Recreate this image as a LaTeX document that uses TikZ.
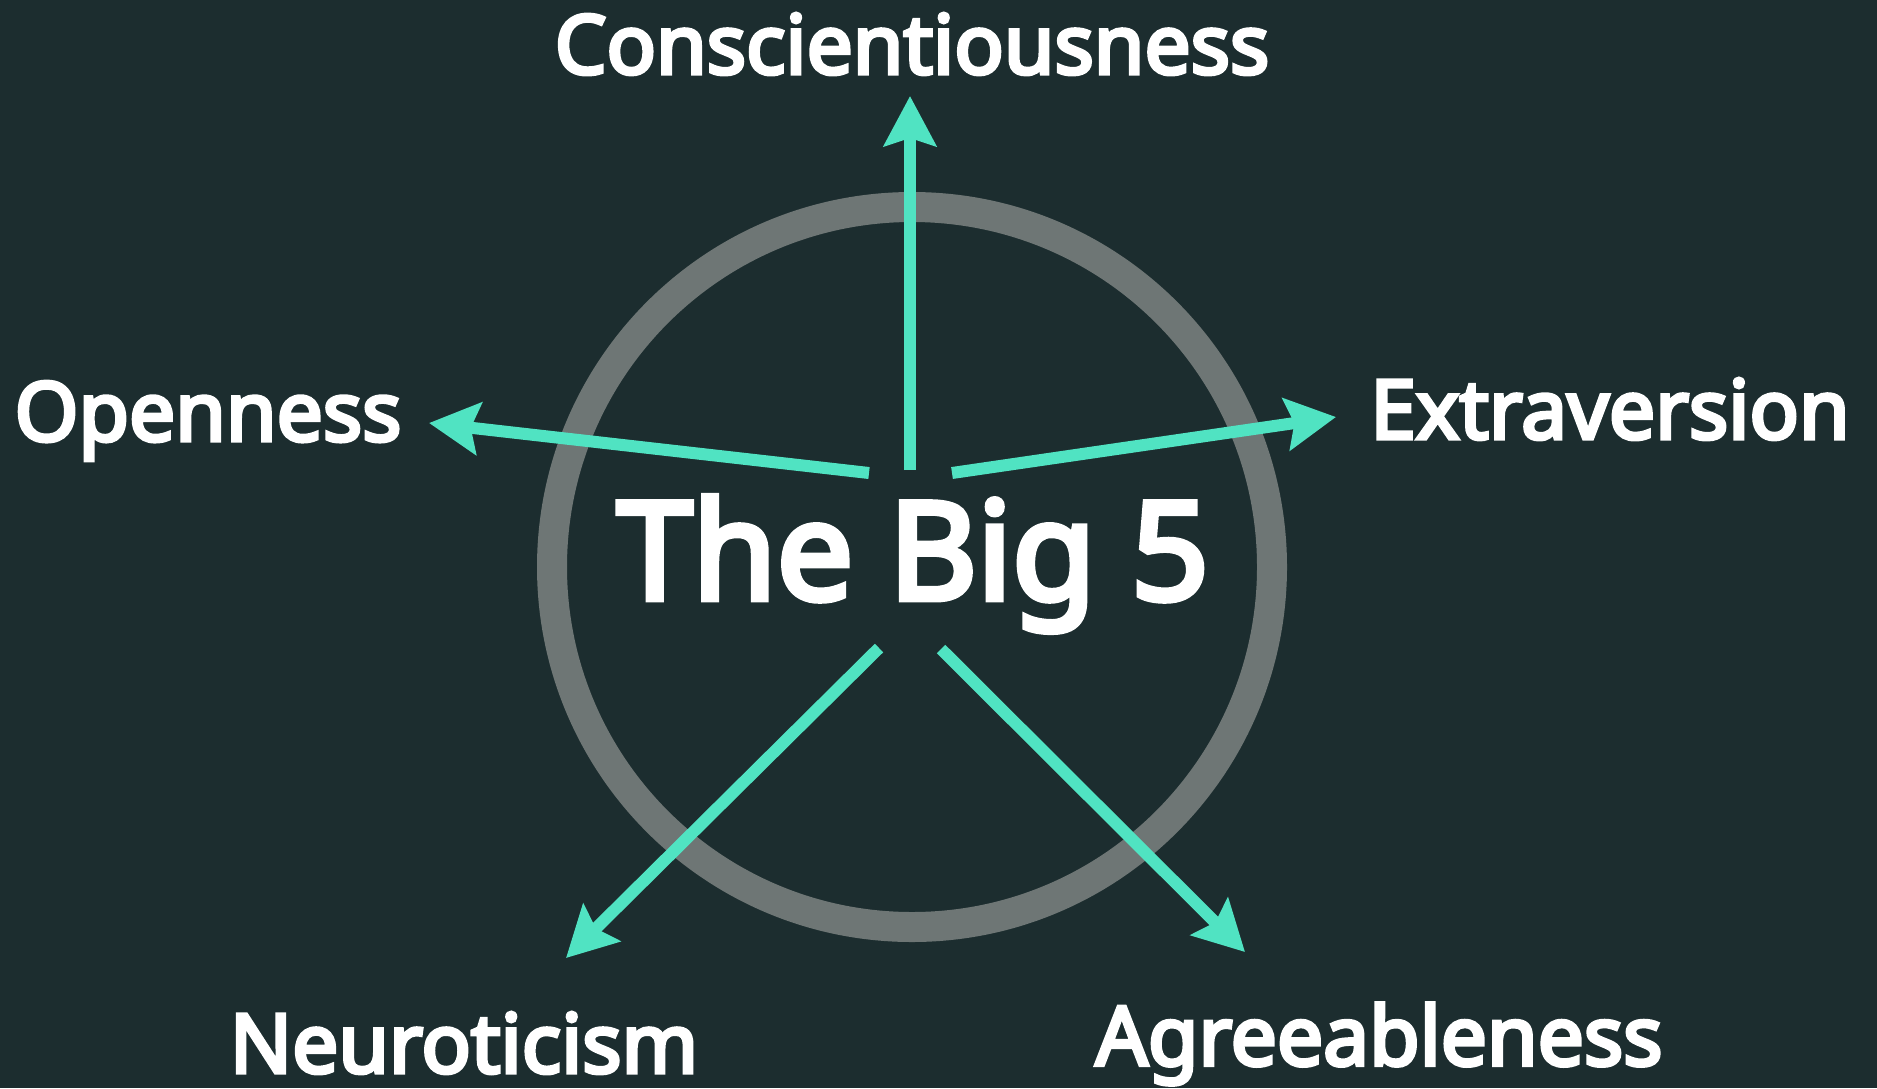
\documentclass[tikz,border=0pt]{standalone}
\usepackage{fontspec}
\setmainfont{Noto Sans}[BoldFont={Noto Sans}, BoldFeatures={FakeBold=4.5}]
\usetikzlibrary{arrows.meta}
\definecolor{bgcol}{HTML}{1C2D2F}
\definecolor{mint}{HTML}{50E3C2}
\definecolor{ringcol}{HTML}{6E7675}
\begin{document}
\begin{tikzpicture}[
	x=0.5pt, y=-0.5pt,
	trait/.style={text=white, font=\fontsize{41}{48}\selectfont\bfseries, inner sep=0pt},
	spoke/.style={draw=mint, line width=6pt, -{Stealth[length=25pt, width=26pt, inset=4pt]}},
]
\fill[bgcol] (0,0) rectangle (1877,1088);
\draw[ringcol, line width=15pt] (912,567) circle (180pt);
\node[text=white, font=\fontsize{68}{80}\selectfont\bfseries, inner sep=0pt] (big) at (913,564) {The Big 5};
\node[trait] (con) at (912,44) {Conscientiousness};
\node[trait] (ope) at (208,421) {Openness};
\node[trait] (ext) at (1610,409) {Extraversion};
\node[trait] (neu) at (464,1043) {Neuroticism};
\node[trait] (agr) at (1379,1044) {Agreeableness};
% spoke ends
\coordinate (c0) at (910,470);  \coordinate (c1) at (910,96);
\coordinate (o0) at (869,473);  \coordinate (o1) at (429,423);
\coordinate (e0) at (952,473);  \coordinate (e1) at (1336,417);
\coordinate (n0) at (879,648);  \coordinate (n1) at (566,958);
\coordinate (a0) at (941,649);  \coordinate (a1) at (1245,952);
\draw[spoke] (c0) -- (c1);
\draw[spoke] (o0) -- (o1);
\draw[spoke] (e0) -- (e1);
\draw[spoke] (n0) -- (n1);
\draw[spoke] (a0) -- (a1);
\end{tikzpicture}
\end{document}
